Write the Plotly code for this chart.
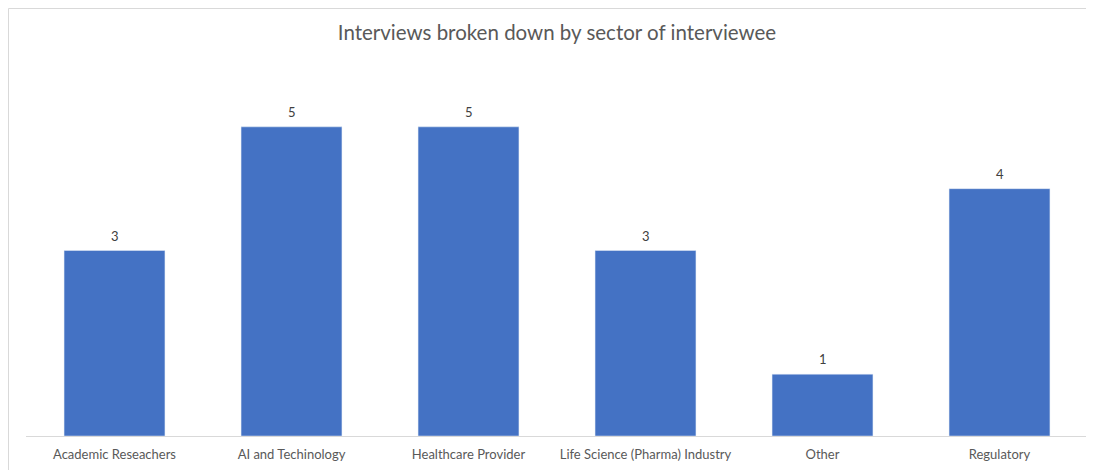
import plotly.graph_objects as go

categories = ["Academic Reseachers", "AI and Techinology", "Healthcare Provider",
              "Life Science (Pharma) Industry", "Other", "Regulatory"]
counts = [3, 5, 5, 3, 1, 4]

FONT = "Lato, Open Sans, sans-serif"

fig = go.Figure(go.Bar(
    x=categories, y=counts, marker_color="#4472C4", width=0.57,
))

for c, v in zip(categories, counts):
    fig.add_annotation(x=c, y=v, text=str(v), showarrow=False,
                       yanchor="bottom", yshift=5,
                       font=dict(family=FONT, size=13, color="#404040"))

fig.update_layout(
    width=1094, height=470,
    margin=dict(l=18, r=14, t=57, b=42),
    paper_bgcolor="white", plot_bgcolor="white",
    title=dict(text="Interviews broken down by sector of interviewee",
               x=0.5, xref="paper", y=1 - 25 / 470, yanchor="middle",
               font=dict(family=FONT, size=20.5, color="#595959")),
    xaxis=dict(showline=True, linecolor="#D9D9D9", linewidth=1, ticks="",
               ticklabelstandoff=6,
               tickfont=dict(family=FONT, size=13, color="#595959"),
               showgrid=False),
    yaxis=dict(range=[0, 6], visible=False, showgrid=False),
    showlegend=False,
)
fig.add_shape(type="rect", xref="paper", yref="paper",
              x0=(0.5 - 18) / 1062, x1=1.05, y0=-0.3, y1=(428 - 0.5) / 371,
              line=dict(color="#D9D9D9", width=1), layer="below")

fig.write_html("out.html")
